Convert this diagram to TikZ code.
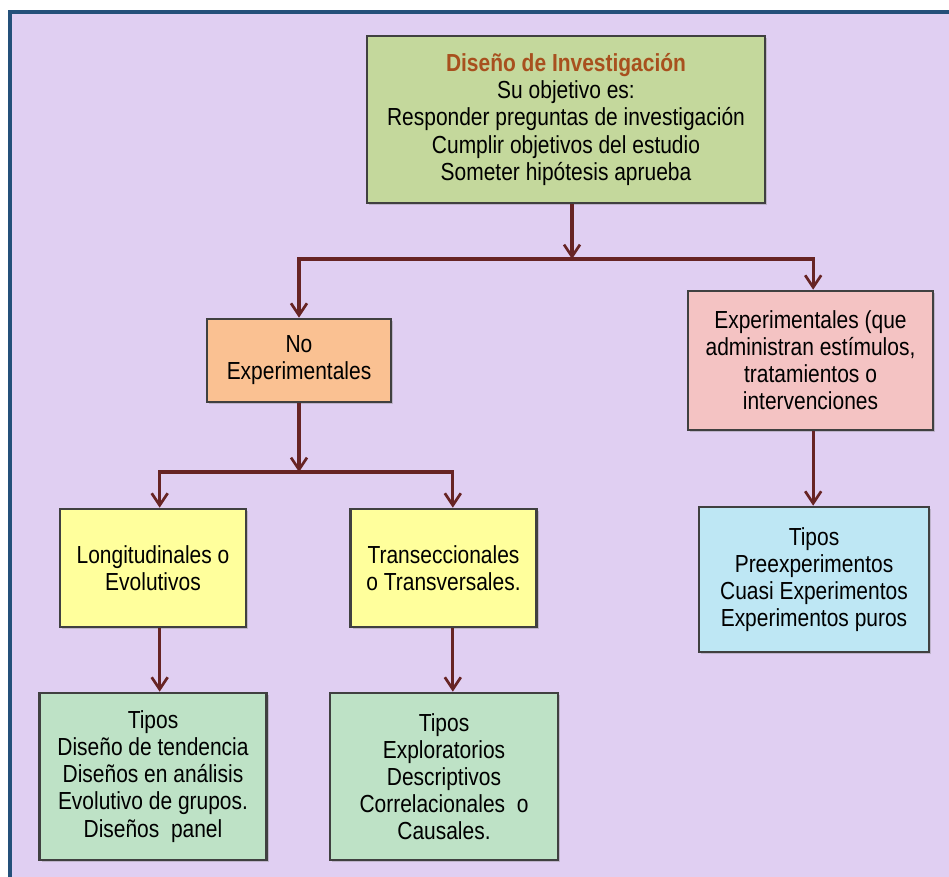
\documentclass[tikz,border=0pt]{standalone}
\usepackage{fontspec}
\setmainfont{Liberation Sans}[FakeStretch=0.85]
\usetikzlibrary{arrows.meta,shadows}
\definecolor{bgviolet}{HTML}{E0CFF2}
\definecolor{framebl}{HTML}{24507A}
\definecolor{linkred}{HTML}{672424}
\definecolor{titlebr}{HTML}{A8501E}
\definecolor{olivebox}{HTML}{C4D89C}
\definecolor{peachbox}{HTML}{FAC192}
\definecolor{pinkbox}{HTML}{F4C3C3}
\definecolor{yellowbox}{HTML}{FFFF9C}
\definecolor{bluebox}{HTML}{BEE7F4}
\definecolor{mintbox}{HTML}{BEE2C6}

\begin{document}
\begin{tikzpicture}[x=0.75pt,y=-0.75pt,
  >={Straight Barb[length=9pt,width=12pt,line width=2pt]},
  link/.style={->,draw=linkred,line width=2.3pt},
  box/.style={draw=black!75,line width=2pt,align=center,inner sep=0pt,
    font=\fontsize{18.5}{20.3}\selectfont,
    drop shadow={shadow xshift=1.5pt,shadow yshift=-1.5pt,opacity=.35}}]
  \clip (0,0) rectangle (949,877);
  \useasboundingbox (0,0) rectangle (949,877);
  % fondo
  \fill[bgviolet] (10,12) rectangle (960,890);
  \draw[framebl,line width=2.6pt] (960,12) -- (10,12) -- (10,890);
  % cajas
  \node[box,fill=olivebox,minimum width=298.5pt,minimum height=125.25pt] (diseno) at (566,119.5)
    {{\color{titlebr}\bfseries Diseño de Investigación}\\Su objetivo es:\\Responder preguntas de investigación\\Cumplir objetivos del estudio\\Someter hipótesis aprueba};
  \node[box,fill=peachbox,minimum width=138pt,minimum height=62.25pt] (noexp) at (299,360.5)
    {No\\Experimentales};
  \node[box,fill=pinkbox,minimum width=183.75pt,minimum height=104.25pt] (exper) at (810.5,360.5)
    {Experimentales (que\\administran estímulos,\\tratamientos o\\intervenciones};
  \node[box,fill=yellowbox,minimum width=139.5pt,minimum height=88.5pt] (longi) at (153,568)
    {Longitudinales o\\Evolutivos};
  \node[box,fill=yellowbox,minimum width=139.5pt,minimum height=88.5pt] (trans) at (443.5,568)
    {Transeccionales\\o Transversales.};
  \node[box,fill=bluebox,minimum width=172.5pt,minimum height=108.75pt] (tiposexp) at (814,579.5)
    {Tipos\\Preexperimentos\\Cuasi Experimentos\\Experimentos puros};
  \node[box,fill=mintbox,minimum width=170.25pt,minimum height=125.25pt] (tiposlongi) at (153,776.5)
    {Tipos\\Diseño de tendencia\\Diseños en análisis\\Evolutivo de grupos.\\Diseños\ \ panel};
  \node[box,fill=mintbox,minimum width=171pt,minimum height=125.25pt] (tipostrans) at (444,776.5)
    {Tipos\\Exploratorios\\Descriptivos\\Correlacionales\ \ o\\Causales.};
  % conectores
  \coordinate (j1) at (572,259);
  \coordinate (j2) at (299,472);
  \draw[link] (diseno.south -| j1) -- (j1);
  \draw[link] (j1) -| (noexp.north);
  \draw[link] (j1) -| ([xshift=2pt]exper.north);
  \draw[link] (noexp.south) -- (j2);
  \draw[link] (j2) -| ([xshift=5pt]longi.north);
  \draw[link] (j2) -| ([xshift=7pt]trans.north);
  \draw[link] ([xshift=5pt]longi.south) -- ([xshift=5pt]longi.south |- tiposlongi.north);
  \draw[link] ([xshift=7pt]trans.south) -- ([xshift=7pt]trans.south |- tipostrans.north);
  \draw[link] ([xshift=2pt]exper.south) -- ([xshift=2pt]exper.south |- tiposexp.north);
\end{tikzpicture}
\end{document}
